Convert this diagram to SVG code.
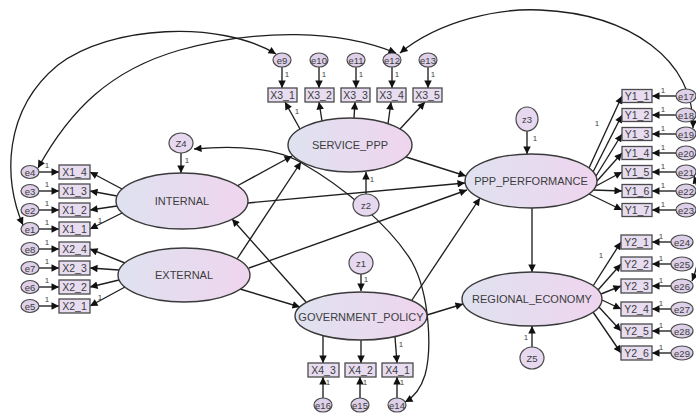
<svg xmlns="http://www.w3.org/2000/svg" width="696" height="414" viewBox="0 0 696 414">
  <defs>
    <linearGradient id="latentFill" x1="0" y1="0" x2="1" y2="0">
      <stop offset="0" stop-color="#dfe2f0"/>
      <stop offset="1" stop-color="#efd5ee"/>
    </linearGradient>
    <marker id="ah" viewBox="0 0 10 10" refX="10" refY="5" markerWidth="10" markerHeight="7.5" markerUnits="userSpaceOnUse" orient="auto-start-reverse">
      <path d="M0,0 L10,5 L0,10 z" fill="#111"/>
    </marker>
    <style>
      .lat { fill: url(#latentFill); stroke: #3a3a3a; stroke-width: 1.4; }
      .obs { fill: #e7dcf0; stroke: #4a4a4a; stroke-width: 1.3; }
      .err { fill: #ddd0e8; stroke: #4a4a4a; stroke-width: 1.2; }
      .dist { fill: #e6d9ef; stroke: #4a4a4a; stroke-width: 1.2; }
      .lt { font-family: "Liberation Sans", Arial, sans-serif; font-size: 11px; fill: #3c3c3c; text-anchor: middle; dominant-baseline: central; }
      .ot { font-family: "Liberation Sans", Arial, sans-serif; font-size: 10.5px; fill: #3c3c3c; text-anchor: middle; dominant-baseline: central; }
      .et { font-family: "Liberation Sans", Arial, sans-serif; font-size: 9.5px; fill: #3c3c3c; text-anchor: middle; dominant-baseline: central; }
      .one { font-family: "Liberation Sans", Arial, sans-serif; font-size: 8px; fill: #444; text-anchor: middle; }
      .arr { fill: none; stroke: #1e1e1e; stroke-width: 1.35; marker-end: url(#ah); }
      .cov { fill: none; stroke: #1e1e1e; stroke-width: 1.3; marker-start: url(#ah); marker-end: url(#ah); }
    </style>
  </defs>

  <rect width="696" height="414" fill="#ffffff"/>

  <!-- paths, loadings and covariances -->
  <g id="connectors">
    <!-- covariances between residuals -->
    <path class="cov" d="M 23,225 C 3,180 3,110 58,65 C 110,25 220,20 276,54"/>
    <path class="cov" d="M 38,168 C 70,110 110,70 180,50 C 260,28 340,30 396,53"/>
    <path class="cov" d="M 400,53 C 440,20 500,8 540,10 C 630,14 695,60 693,128"/>
    <path class="cov" d="M 694,176 C 703,205 703,255 692,281"/>
    <path class="cov" d="M 194,149 C 240,145 280,148 305,165 C 340,185 390,225 412,262 C 430,295 432,350 425,375 C 421,388 414,397 405,402"/>

    <!-- structural paths -->
    <path class="arr" d="M 237,186 L 292,156"/>
    <path class="arr" d="M 237,259 L 301,162"/>
    <path class="arr" d="M 248,203 L 465,183"/>
    <path class="arr" d="M 249,268 L 467,190"/>
    <path class="arr" d="M 406,157 L 466,176"/>
    <path class="arr" d="M 240,289 L 300,307"/>
    <path class="arr" d="M 306,302 L 232,219"/>
    <path class="arr" d="M 412,300 L 480,198"/>
    <path class="arr" d="M 427,315 L 463,304"/>
    <path class="arr" d="M 532,208 L 532,272"/>

    <!-- disturbances -->
    <path class="arr" d="M 181,153 L 181,173"/>
    <path class="arr" d="M 366,194 L 366,172"/>
    <path class="arr" d="M 361,274 L 361,291"/>
    <path class="arr" d="M 527,131 L 527,154"/>
    <path class="arr" d="M 532,347 L 532,326"/>

    <!-- INTERNAL indicators -->
    <path class="arr" d="M 122,189 L 90,172"/>
    <path class="arr" d="M 117,196 L 90,191"/>
    <path class="arr" d="M 117,206 L 90,210"/>
    <path class="arr" d="M 122,213 L 90,229"/>
    <!-- EXTERNAL indicators -->
    <path class="arr" d="M 125,263 L 90,249"/>
    <path class="arr" d="M 119,270 L 90,268"/>
    <path class="arr" d="M 119,280 L 90,287"/>
    <path class="arr" d="M 125,287 L 90,306"/>
    <!-- left residuals -->
    <path class="arr" d="M 39,172 L 59,172"/>
    <path class="arr" d="M 39,191 L 59,191"/>
    <path class="arr" d="M 39,210 L 59,210"/>
    <path class="arr" d="M 39,229 L 59,229"/>
    <path class="arr" d="M 39,249 L 59,249"/>
    <path class="arr" d="M 39,268 L 59,268"/>
    <path class="arr" d="M 39,287 L 59,287"/>
    <path class="arr" d="M 39,306 L 59,306"/>

    <!-- SERVICE_PPP indicators -->
    <path class="arr" d="M 300,129 L 285,102"/>
    <path class="arr" d="M 322,121 L 319,102"/>
    <path class="arr" d="M 354,118 L 355,102"/>
    <path class="arr" d="M 388,124 L 391,102"/>
    <path class="arr" d="M 400,129 L 425,102"/>
    <path class="arr" d="M 282,67 L 282,88"/>
    <path class="arr" d="M 319,67 L 319,88"/>
    <path class="arr" d="M 356,67 L 356,88"/>
    <path class="arr" d="M 392,67 L 392,88"/>
    <path class="arr" d="M 428,67 L 428,88"/>

    <!-- GOVERNMENT_POLICY indicators -->
    <path class="arr" d="M 323,336 L 323,363"/>
    <path class="arr" d="M 361,340 L 361,363"/>
    <path class="arr" d="M 395,337 L 397,363"/>
    <path class="arr" d="M 323,398 L 323,377"/>
    <path class="arr" d="M 360,398 L 360,377"/>
    <path class="arr" d="M 397,398 L 397,377"/>

    <!-- PPP_PERFORMANCE indicators -->
    <path class="arr" d="M 589,168 L 622,96"/>
    <path class="arr" d="M 593,172 L 622,115"/>
    <path class="arr" d="M 596,176 L 622,134"/>
    <path class="arr" d="M 597,181 L 622,153"/>
    <path class="arr" d="M 596,186 L 622,172"/>
    <path class="arr" d="M 593,190 L 622,191"/>
    <path class="arr" d="M 589,194 L 622,210"/>
    <path class="arr" d="M 676,96 L 652,96"/>
    <path class="arr" d="M 676,115 L 652,115"/>
    <path class="arr" d="M 676,134 L 652,134"/>
    <path class="arr" d="M 676,153 L 652,153"/>
    <path class="arr" d="M 676,172 L 652,172"/>
    <path class="arr" d="M 676,191 L 652,191"/>
    <path class="arr" d="M 676,210 L 652,210"/>

    <!-- REGIONAL_ECONOMY indicators -->
    <path class="arr" d="M 593,286 L 621,242"/>
    <path class="arr" d="M 598,290 L 621,264"/>
    <path class="arr" d="M 601,294 L 621,286"/>
    <path class="arr" d="M 602,300 L 621,309"/>
    <path class="arr" d="M 598,306 L 621,331"/>
    <path class="arr" d="M 593,312 L 621,353"/>
    <path class="arr" d="M 671,242 L 652,242"/>
    <path class="arr" d="M 671,264 L 652,264"/>
    <path class="arr" d="M 671,286 L 652,286"/>
    <path class="arr" d="M 671,309 L 652,309"/>
    <path class="arr" d="M 671,331 L 652,331"/>
    <path class="arr" d="M 671,353 L 652,353"/>

    <!-- fixed loadings -->
    <text class="one" x="47" y="168">1</text>
    <text class="one" x="47" y="187">1</text>
    <text class="one" x="47" y="206">1</text>
    <text class="one" x="47" y="225">1</text>
    <text class="one" x="47" y="245">1</text>
    <text class="one" x="47" y="264">1</text>
    <text class="one" x="47" y="283">1</text>
    <text class="one" x="47" y="302">1</text>
    <text class="one" x="100" y="223">1</text>
    <text class="one" x="100" y="300">1</text>
    <text class="one" x="187" y="163">1</text>
    <text class="one" x="297" y="114">1</text>
    <text class="one" x="287" y="77">1</text>
    <text class="one" x="324" y="77">1</text>
    <text class="one" x="361" y="77">1</text>
    <text class="one" x="397" y="77">1</text>
    <text class="one" x="433" y="77">1</text>
    <text class="one" x="372" y="182">1</text>
    <text class="one" x="366" y="282">1</text>
    <text class="one" x="401" y="347">1</text>
    <text class="one" x="328" y="385">1</text>
    <text class="one" x="365" y="385">1</text>
    <text class="one" x="402" y="385">1</text>
    <text class="one" x="535" y="141">1</text>
    <text class="one" x="526" y="340">1</text>
    <text class="one" x="597" y="126">1</text>
    <text class="one" x="601" y="258">1</text>
    <text class="one" x="663" y="93">1</text>
    <text class="one" x="663" y="112">1</text>
    <text class="one" x="663" y="131">1</text>
    <text class="one" x="663" y="150">1</text>
    <text class="one" x="663" y="169">1</text>
    <text class="one" x="663" y="188">1</text>
    <text class="one" x="663" y="207">1</text>
    <text class="one" x="661" y="239">1</text>
    <text class="one" x="661" y="261">1</text>
    <text class="one" x="661" y="283">1</text>
    <text class="one" x="661" y="306">1</text>
    <text class="one" x="661" y="328">1</text>
    <text class="one" x="661" y="350">1</text>
  </g>

  <!-- latent variables -->
  <g id="internal"><ellipse class="lat" cx="182" cy="201" rx="66" ry="28"/><text class="lt" x="182" y="201">INTERNAL</text></g>
  <g id="external"><ellipse class="lat" cx="184" cy="275" rx="66" ry="27"/><text class="lt" x="184" y="275">EXTERNAL</text></g>
  <g id="service_ppp"><ellipse class="lat" cx="350" cy="145" rx="62" ry="27"/><text class="lt" x="350" y="145">SERVICE_PPP</text></g>
  <g id="government_policy"><ellipse class="lat" cx="361" cy="316" rx="66" ry="24"/><text class="lt" x="361" y="317">GOVERNMENT_POLICY</text></g>
  <g id="ppp_performance"><ellipse class="lat" cx="531" cy="181" rx="66" ry="27"/><text class="lt" x="531" y="181">PPP_PERFORMANCE</text></g>
  <g id="regional_economy"><ellipse class="lat" cx="532" cy="299" rx="70" ry="27"/><text class="lt" x="532" y="299">REGIONAL_ECONOMY</text></g>

  <!-- disturbances -->
  <g id="z4"><ellipse class="dist" cx="181" cy="143" rx="12" ry="10"/><text class="et" x="181" y="143">Z4</text></g>
  <g id="z2"><ellipse class="dist" cx="366" cy="205" rx="13" ry="11"/><text class="et" x="366" y="205">z2</text></g>
  <g id="z1"><ellipse class="dist" cx="361" cy="263" rx="12" ry="11"/><text class="et" x="361" y="263">z1</text></g>
  <g id="z3"><ellipse class="dist" cx="527" cy="119" rx="11" ry="12"/><text class="et" x="527" y="119">z3</text></g>
  <g id="z5"><ellipse class="dist" cx="532" cy="358" rx="12" ry="11"/><text class="et" x="532" y="358">Z5</text></g>

  <!-- INTERNAL / EXTERNAL observed items -->
  <g id="x1_4"><rect class="obs" x="59" y="165" width="31" height="14"/><text class="ot" x="74.5" y="172">X1_4</text></g>
  <g id="x1_3"><rect class="obs" x="59" y="184" width="31" height="14"/><text class="ot" x="74.5" y="191">X1_3</text></g>
  <g id="x1_2"><rect class="obs" x="59" y="203" width="31" height="14"/><text class="ot" x="74.5" y="210">X1_2</text></g>
  <g id="x1_1"><rect class="obs" x="59" y="222" width="31" height="14"/><text class="ot" x="74.5" y="229">X1_1</text></g>
  <g id="x2_4"><rect class="obs" x="59" y="242" width="31" height="14"/><text class="ot" x="74.5" y="249">X2_4</text></g>
  <g id="x2_3"><rect class="obs" x="59" y="261" width="31" height="14"/><text class="ot" x="74.5" y="268">X2_3</text></g>
  <g id="x2_2"><rect class="obs" x="59" y="280" width="31" height="14"/><text class="ot" x="74.5" y="287">X2_2</text></g>
  <g id="x2_1"><rect class="obs" x="59" y="299" width="31" height="14"/><text class="ot" x="74.5" y="306">X2_1</text></g>

  <g id="e4"><ellipse class="err" cx="30" cy="172" rx="9" ry="6.5"/><text class="et" x="30" y="172">e4</text></g>
  <g id="e3"><ellipse class="err" cx="30" cy="191" rx="9" ry="6.5"/><text class="et" x="30" y="191">e3</text></g>
  <g id="e2"><ellipse class="err" cx="30" cy="210" rx="9" ry="6.5"/><text class="et" x="30" y="210">e2</text></g>
  <g id="e1"><ellipse class="err" cx="30" cy="229" rx="9" ry="6.5"/><text class="et" x="30" y="229">e1</text></g>
  <g id="e8"><ellipse class="err" cx="30" cy="249" rx="9" ry="6.5"/><text class="et" x="30" y="249">e8</text></g>
  <g id="e7"><ellipse class="err" cx="30" cy="268" rx="9" ry="6.5"/><text class="et" x="30" y="268">e7</text></g>
  <g id="e6"><ellipse class="err" cx="30" cy="287" rx="9" ry="6.5"/><text class="et" x="30" y="287">e6</text></g>
  <g id="e5"><ellipse class="err" cx="30" cy="306" rx="9" ry="6.5"/><text class="et" x="30" y="306">e5</text></g>

  <!-- SERVICE_PPP observed items -->
  <g id="x3_1"><rect class="obs" x="268" y="88" width="29" height="14"/><text class="ot" x="282.5" y="95">X3_1</text></g>
  <g id="x3_2"><rect class="obs" x="305" y="88" width="29" height="14"/><text class="ot" x="319.5" y="95">X3_2</text></g>
  <g id="x3_3"><rect class="obs" x="341" y="88" width="29" height="14"/><text class="ot" x="355.5" y="95">X3_3</text></g>
  <g id="x3_4"><rect class="obs" x="377" y="88" width="29" height="14"/><text class="ot" x="391.5" y="95">X3_4</text></g>
  <g id="x3_5"><rect class="obs" x="413" y="88" width="29" height="14"/><text class="ot" x="427.5" y="95">X3_5</text></g>

  <g id="e9"><ellipse class="err" cx="282" cy="60" rx="9" ry="7"/><text class="et" x="282" y="60">e9</text></g>
  <g id="e10"><ellipse class="err" cx="319" cy="60" rx="9" ry="7"/><text class="et" x="319" y="60">e10</text></g>
  <g id="e11"><ellipse class="err" cx="356" cy="60" rx="9" ry="7"/><text class="et" x="356" y="60">e11</text></g>
  <g id="e12"><ellipse class="err" cx="392" cy="60" rx="9" ry="7"/><text class="et" x="392" y="60">e12</text></g>
  <g id="e13"><ellipse class="err" cx="428" cy="60" rx="9" ry="7"/><text class="et" x="428" y="60">e13</text></g>

  <!-- GOVERNMENT_POLICY observed items -->
  <g id="x4_3"><rect class="obs" x="308" y="363" width="31" height="14"/><text class="ot" x="323.5" y="370">X4_3</text></g>
  <g id="x4_2"><rect class="obs" x="345" y="363" width="31" height="14"/><text class="ot" x="360.5" y="370">X4_2</text></g>
  <g id="x4_1"><rect class="obs" x="382" y="363" width="31" height="14"/><text class="ot" x="397.5" y="370">X4_1</text></g>

  <g id="e16"><ellipse class="err" cx="323" cy="405" rx="9" ry="7"/><text class="et" x="323" y="405">e16</text></g>
  <g id="e15"><ellipse class="err" cx="360" cy="405" rx="9" ry="7"/><text class="et" x="360" y="405">e15</text></g>
  <g id="e14"><ellipse class="err" cx="397" cy="405" rx="9" ry="7"/><text class="et" x="397" y="405">e14</text></g>

  <!-- PPP_PERFORMANCE observed items -->
  <g id="y1_1"><rect class="obs" x="622" y="89.5" width="30" height="13"/><text class="ot" x="637" y="96">Y1_1</text></g>
  <g id="y1_2"><rect class="obs" x="622" y="108.5" width="30" height="13"/><text class="ot" x="637" y="115">Y1_2</text></g>
  <g id="y1_3"><rect class="obs" x="622" y="127.5" width="30" height="13"/><text class="ot" x="637" y="134">Y1_3</text></g>
  <g id="y1_4"><rect class="obs" x="622" y="146.5" width="30" height="13"/><text class="ot" x="637" y="153">Y1_4</text></g>
  <g id="y1_5"><rect class="obs" x="622" y="165.5" width="30" height="13"/><text class="ot" x="637" y="172">Y1_5</text></g>
  <g id="y1_6"><rect class="obs" x="622" y="184.5" width="30" height="13"/><text class="ot" x="637" y="191">Y1_6</text></g>
  <g id="y1_7"><rect class="obs" x="622" y="203.5" width="30" height="13"/><text class="ot" x="637" y="210">Y1_7</text></g>

  <g id="e17"><ellipse class="err" cx="686" cy="96" rx="10" ry="7"/><text class="et" x="686" y="96">e17</text></g>
  <g id="e18"><ellipse class="err" cx="686" cy="115" rx="10" ry="7"/><text class="et" x="686" y="115">e18</text></g>
  <g id="e19"><ellipse class="err" cx="686" cy="134" rx="10" ry="7"/><text class="et" x="686" y="134">e19</text></g>
  <g id="e20"><ellipse class="err" cx="686" cy="153" rx="10" ry="7"/><text class="et" x="686" y="153">e20</text></g>
  <g id="e21"><ellipse class="err" cx="686" cy="172" rx="10" ry="7"/><text class="et" x="686" y="172">e21</text></g>
  <g id="e22"><ellipse class="err" cx="686" cy="191" rx="10" ry="7"/><text class="et" x="686" y="191">e22</text></g>
  <g id="e23"><ellipse class="err" cx="686" cy="210" rx="10" ry="7"/><text class="et" x="686" y="210">e23</text></g>

  <!-- REGIONAL_ECONOMY observed items -->
  <g id="y2_1"><rect class="obs" x="621" y="235" width="31" height="14"/><text class="ot" x="636.5" y="242">Y2_1</text></g>
  <g id="y2_2"><rect class="obs" x="621" y="257" width="31" height="14"/><text class="ot" x="636.5" y="264">Y2_2</text></g>
  <g id="y2_3"><rect class="obs" x="621" y="279" width="31" height="14"/><text class="ot" x="636.5" y="286">Y2_3</text></g>
  <g id="y2_4"><rect class="obs" x="621" y="302" width="31" height="14"/><text class="ot" x="636.5" y="309">Y2_4</text></g>
  <g id="y2_5"><rect class="obs" x="621" y="324" width="31" height="14"/><text class="ot" x="636.5" y="331">Y2_5</text></g>
  <g id="y2_6"><rect class="obs" x="621" y="346" width="31" height="14"/><text class="ot" x="636.5" y="353">Y2_6</text></g>

  <g id="e24"><ellipse class="err" cx="682" cy="242" rx="11" ry="7"/><text class="et" x="682" y="242">e24</text></g>
  <g id="e25"><ellipse class="err" cx="682" cy="264" rx="11" ry="7"/><text class="et" x="682" y="264">e25</text></g>
  <g id="e26"><ellipse class="err" cx="682" cy="286" rx="11" ry="7"/><text class="et" x="682" y="286">e26</text></g>
  <g id="e27"><ellipse class="err" cx="682" cy="309" rx="11" ry="7"/><text class="et" x="682" y="309">e27</text></g>
  <g id="e28"><ellipse class="err" cx="682" cy="331" rx="11" ry="7"/><text class="et" x="682" y="331">e28</text></g>
  <g id="e29"><ellipse class="err" cx="682" cy="353" rx="11" ry="7"/><text class="et" x="682" y="353">e29</text></g>
</svg>
